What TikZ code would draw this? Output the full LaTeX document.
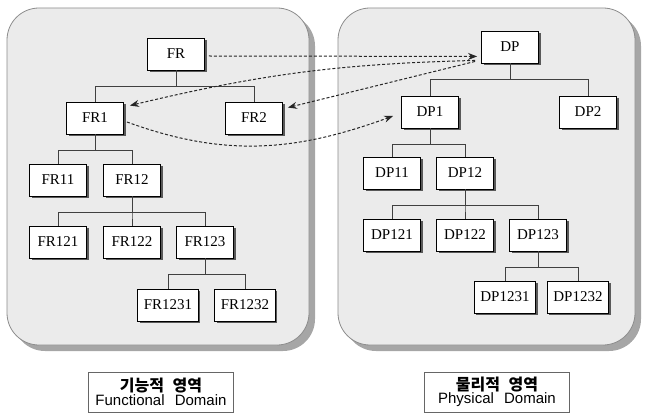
\documentclass[tikz,border=0pt]{standalone}
\usepackage{fontspec}
\setmainfont{Liberation Serif}
\newfontfamily\capfont{Liberation Sans}
\newfontfamily\krfont{Noto Sans CJK KR}
\usetikzlibrary{arrows.meta,shadows}

\begin{document}
\begin{tikzpicture}[x=1pt, y=-1pt,
    every block/.style={draw, fill=white, line width=0.9pt, minimum width=57pt,
      minimum height=32pt, inner xsep=6pt, font=\fontsize{15}{17}\selectfont,
      drop shadow={shadow xshift=2pt, shadow yshift=-2pt, fill=black!65, opacity=1}},
    tree/.style={draw=black!75, line width=0.9pt},
    map/.style={dash pattern=on 3pt off 2pt, line width=1pt, black!85,
      -{Stealth[length=9pt, width=7pt, inset=3pt]}},
    panel/.style={rounded corners=32pt, draw=black!45, fill=black!8, line width=0.8pt},
    caption/.style={draw=black!60, fill=white, line width=0.8pt, align=center,
      inner sep=2pt, minimum width=145pt, minimum height=40pt}]
  \useasboundingbox (0,0) rectangle (645,414);

  % the two domains
  \fill [black!35, rounded corners=32pt] (13,14) rectangle (315,351);
  \draw [panel] (7,8) rectangle (309,345);
  \fill [black!35, rounded corners=32pt] (344,14) rectangle (641,351);
  \draw [panel] (338,8) rectangle (635,345);

  \foreach \n/\x/\y in {FR/176/54, FR1/95/118, FR2/254/118, FR11/58/180, FR12/132/180,
      FR121/58/242, FR122/132/242, FR123/205/242, FR1231/168/305, FR1232/245/305}
    \node [every block] (\n) at (\x, \y) {\n};
  \foreach \n/\x/\y in {DP/510/47, DP1/430/112, DP2/588/112, DP11/392/173, DP12/465/173,
      DP121/392/235, DP122/465/235, DP123/538/235, DP1231/505/297, DP1232/578/297}
    \node [every block] (\n) at (\x, \y) {\n};

  \foreach \p/\c in {FR/FR1, FR/FR2, FR1/FR11, FR1/FR12, FR12/FR121, FR12/FR122,
      FR12/FR123, FR123/FR1231, FR123/FR1232}
    \draw [tree] (\p.south) -- ++(0,16) -| (\c.north);
  \foreach \p/\c in {DP/DP1, DP/DP2, DP1/DP11, DP1/DP12, DP12/DP121, DP12/DP122,
      DP12/DP123, DP123/DP1231, DP123/DP1232}
    \draw [tree] (\p.south) -- ++(0,16) -| (\c.north);

  % zigzag mapping
  \draw [map] ([xshift=4pt, yshift=-2pt]FR.east) -- ([xshift=-4pt, yshift=7pt]DP.south west);
  \draw [map] ([xshift=-6pt, yshift=3pt]DP.south west) to[bend right=6]
    ([xshift=6pt, yshift=-4pt]FR1.north east);
  \draw [map] ([xshift=-6pt, yshift=2pt]DP.south west) --
    ([xshift=5pt, yshift=-6pt]FR2.north east);
  \draw [map] ([xshift=3pt, yshift=-4pt]FR1.east) to[out=-20, in=200]
    ([xshift=-8pt, yshift=-4pt]DP1.west);

  \node [caption] (functional) at (161,392)
    {{\krfont\bfseries\fontsize{16}{18}\selectfont 기능적\hspace{5pt} 영역}\\
     {\capfont\fontsize{15}{17}\selectfont Functional\hspace{6pt} Domain}};
  \node [caption] (physical) at (497,392)
    {{\krfont\bfseries\fontsize{16}{18}\selectfont 물리적\hspace{5pt} 영역}\\
     {\capfont\fontsize{15}{17}\selectfont Physical\hspace{6pt} Domain}};
\end{tikzpicture}
\end{document}
